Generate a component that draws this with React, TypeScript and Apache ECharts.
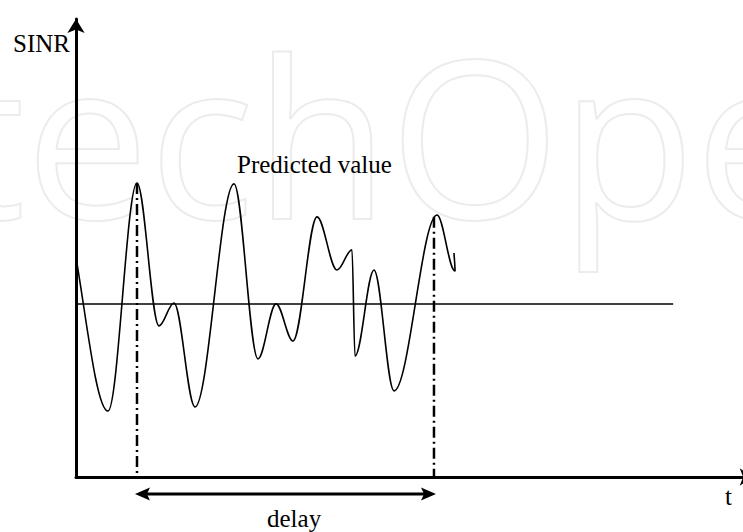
import React, { useEffect, useRef } from "react";
import * as echarts from "echarts";

// Time (abscissa) and SINR values of the curve's turning points
// (the first two lie just left of the SINR axis, where the curve enters the plot)
const timeValues = [-0.7, -0.253, 0.477, 0.909, 1.237, 1.46, 1.773, 2.355, 2.712, 2.981, 3.234, 3.592, 3.89, 4.113, 4.158, 4.441, 4.739, 5.38, 5.648, 5.633];
const sinrValues = [1.6, 6.06, 1.44, 6.42, 3.3, 3.8, 1.53, 6.4, 2.58, 3.78, 2.97, 5.68, 4.52, 4.96, 2.64, 4.52, 1.88, 5.72, 4.5, 4.89];

// Horizontal reference (predicted value level)
const thresholdLevel = 3.78;
const thresholdEnd = 8.9;

// Delay markers
const delayTimes = [0.909, 5.335];
const delayLevels = [6.42, 5.68];
const delayArrowLevel = -0.371;
const delayArrowTimes = [0.879, 5.365];

const xAxisMax = 10.1;
const yAxisMax = 10;

// Faint publisher watermark
const watermarkText = "techOpen";

export default function App() {
  const ref = useRef<HTMLDivElement>(null);

  useEffect(() => {
    if (!ref.current) return;
    const chart = echarts.init(ref.current, undefined, { renderer: "svg" });
    const serif = "Liberation Serif";
    const axisLine = {
      show: true,
      onZero: false,
      symbol: ["none", "arrow"],
      symbolSize: [13, 14],
      lineStyle: { color: "#000", width: 3 },
    };
    const hidden = {
      axisTick: { show: false },
      axisLabel: { show: false },
      splitLine: { show: false },
    };
    chart.setOption({
      animation: false,
      backgroundColor: "#fff",
      grid: { left: 76, right: -10.7, top: 19, bottom: 55, outerBoundsMode: "none" },
      xAxis: { type: "value", min: 0, max: xAxisMax, axisLine, ...hidden },
      yAxis: { type: "value", min: 0, max: yAxisMax, axisLine, ...hidden },
      series: [
        {
          type: "line",
          data: timeValues.map((t, i) => [t, sinrValues[i]]),
          smooth: 0.35,
          smoothMonotone: "x",
          symbol: "none",
          clip: true,
          lineStyle: { color: "#000", width: 1.6 },
          z: 3,
        },
        {
          type: "line",
          data: [
            [0, thresholdLevel],
            [thresholdEnd, thresholdLevel],
          ],
          symbol: "none",
          lineStyle: { color: "#000", width: 1.5 },
        },
        ...delayTimes.map((t, i) => ({
          type: "line",
          data: [
            [t, delayLevels[i]],
            [t, 0],
          ],
          symbol: "none",
          lineStyle: { color: "#000", width: 2.5, type: [11, 4, 2, 4] },
          z: 4,
        })),
      ],
    });

    const p1 = chart.convertToPixel({ gridIndex: 0 }, [delayArrowTimes[0], delayArrowLevel]) as number[];
    const p2 = chart.convertToPixel({ gridIndex: 0 }, [delayArrowTimes[1], delayArrowLevel]) as number[];
    const ah = 15;
    const aw = 6.5;
    const notch = 3;
    const y = p1[1];

    const label = (text: string, x: number, yy: number) => ({
      type: "text",
      style: {
        text,
        x,
        y: yy,
        fontFamily: serif,
        fontSize: 25,
        fill: "#000",
        align: "left",
        verticalAlign: "middle",
      },
    });

    chart.setOption({
      graphic: [
        {
          type: "text",
          z: -10,
          silent: true,
          style: {
            text: watermarkText,
            x: -53,
            y: 133,
            fontFamily: "Open Sans",
            fontSize: 220,
            fill: "none",
            stroke: "#ececec",
            lineWidth: 2,
            align: "left",
            verticalAlign: "middle",
          },
        },
        label("SINR", 13, 43.6),
        label("Predicted value", 237, 164.6),
        label("delay", 267, 518.6),
        label("t", 725, 496.6),
        {
          type: "line",
          shape: { x1: p1[0] + ah - notch, y1: y, x2: p2[0] - ah + notch, y2: y },
          style: { stroke: "#000", lineWidth: 3 },
        },
        {
          type: "polygon",
          shape: {
            points: [
              [p1[0], y],
              [p1[0] + ah, y - aw],
              [p1[0] + ah - notch, y],
              [p1[0] + ah, y + aw],
            ],
          },
          style: { fill: "#000" },
        },
        {
          type: "polygon",
          shape: {
            points: [
              [p2[0], y],
              [p2[0] - ah, y - aw],
              [p2[0] - ah + notch, y],
              [p2[0] - ah, y + aw],
            ],
          },
          style: { fill: "#000" },
        },
      ],
    });

    return () => chart.dispose();
  }, []);

  return (
    <div
      ref={ref}
      style={{ position: "absolute", left: 0, top: 0, width: 743, height: 532, background: "#fff" }}
    />
  );
}
